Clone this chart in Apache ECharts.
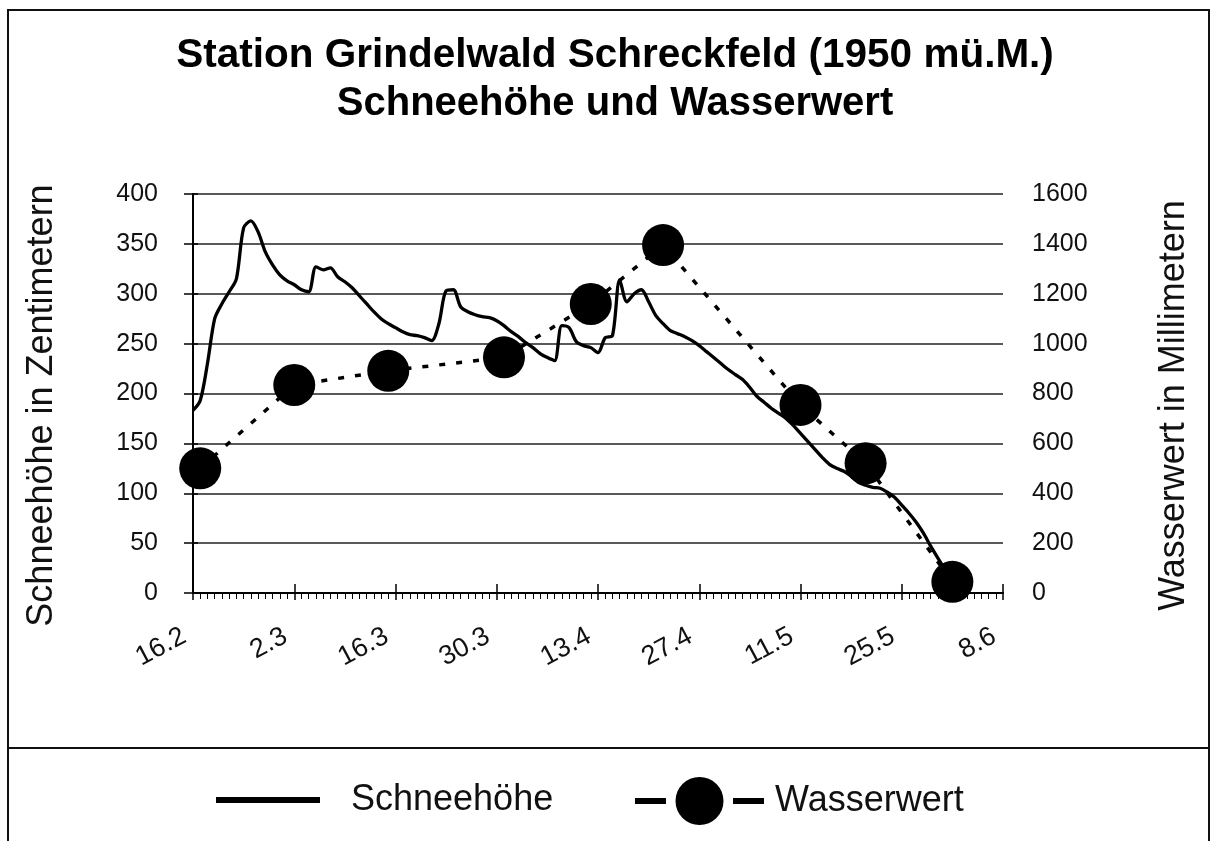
<!DOCTYPE html>
<html>
<head>
<meta charset="utf-8">
<script src="https://cdn.jsdelivr.net/npm/echarts@6/dist/echarts.min.js"></script>
<style>
html,body{margin:0;padding:0;background:#fff;}
#chart{width:1211px;height:841px;}
</style>
</head>
<body>
<div id="chart"></div>
<script>
// x axis: days since 16.2 (0 .. 112)
const tickLabels = ['16.2','2.3','16.3','30.3','13.4','27.4','11.5','25.5','8.6'];
// Schneehöhe (cm), one value per day starting 16.2
const snowDepth = [
  183,193,230,275,290,302,315,366,373,362,
  342,329,319,313,309,304,302,327,324,326,
  317,312,306,298,290,282,275,270,266,262,
  259,258,256,253,270,303,304,287,282,279,
  277,276,273,268,262,257,251,246,240,236,
  233,268,266,252,248,246,241,256,258,314,
  292,300,304,292,278,270,263,260,257,253,
  248,242,236,230,224,219,214,206,197,191,
  185,180,175,168,160,152,144,136,129,125,
  122,117,111,108,106,105,101,96,88,80,
  71,60,47,35,23,11,0
];
// Wasserwert (mm) measurements
const waterDays = [1,14,27,43,55,65,84,93,105];
const waterValues = [500,834,891,945,1159,1395,754,520,45];

const FONT = '"Liberation Sans", Arial, Helvetica, sans-serif';
const snowData = snowDepth.map((v,i)=>[i,v]);
const waterData = waterDays.map((d,i)=>[d,waterValues[i]]);

const chart = echarts.init(document.getElementById('chart'), null, {renderer:'canvas'});
chart.setOption({
  animation:false,
  backgroundColor:'#fff',
  textStyle:{fontFamily:FONT},
  title:[
    {text:'Station Grindelwald Schreckfeld (1950 mü.M.)', left:615, top:35, textAlign:'center', padding:0,
     textStyle:{fontFamily:FONT, fontSize:40.5, fontWeight:'bold', color:'#000'}},
    {text:'Schneehöhe und Wasserwert', left:615, top:84, textAlign:'center', padding:0,
     textStyle:{fontFamily:FONT, fontSize:40, fontWeight:'bold', color:'#000'}}
  ],
  graphic:[
    {type:'rect', shape:{x:8,y:10,width:1201,height:845}, style:{fill:'none', stroke:'#111', lineWidth:2}, silent:true},
    {type:'line', shape:{x1:8,y1:748,x2:1209,y2:748}, style:{stroke:'#111', lineWidth:2}, silent:true}
  ],
  legend:[
    {left:216, top:782, padding:0, itemWidth:104, itemHeight:6,
     data:[{name:'Schneehöhe', icon:'rect'}],
     formatter:'{a|{name}}',
     textStyle:{fontFamily:FONT, fontSize:36, color:'#111', rich:{a:{fontFamily:FONT, fontSize:36, color:'#111', padding:[0,0,0,26]}}}
    },
    {left:632, top:777, padding:0, itemWidth:129, itemHeight:60,
     data:['Wasserwert'],
     lineStyle:{width:6, type:[31,67], color:'#000'},
     formatter:'{a|{name}}',
     textStyle:{fontFamily:FONT, fontSize:36, color:'#111', rich:{a:{fontFamily:FONT, fontSize:36, color:'#111', padding:[0,0,0,6]}}}
    }
  ],
  grid:{left:193, right:208, top:194, bottom:248, containLabel:false},
  xAxis:[
    {type:'value', min:0, max:112, interval:14, position:'bottom',
     axisLine:{show:true, lineStyle:{color:'#000', width:2}},
     axisTick:{show:true, inside:false, length:7, lineStyle:{color:'#000', width:1.5}},
     minorTick:{show:true, splitNumber:14, length:6, lineStyle:{color:'#000', width:1}},
     splitLine:{show:false},
     axisLabel:{show:true, rotate:28, margin:37,
       fontFamily:FONT, fontSize:27, color:'#111',
       formatter:(v)=>'{a|' + tickLabels[Math.round(v/14)] + '}',
       rich:{a:{fontFamily:FONT, fontSize:27, color:'#111', padding:[0,10,0,0]}}}
    },
    {type:'value', min:0, max:112, interval:14, position:'bottom',
     axisLine:{show:false},
     axisTick:{show:true, inside:true, length:9, lineStyle:{color:'#000', width:1.5}},
     axisLabel:{show:false}, splitLine:{show:false}
    }
  ],
  yAxis:[
    {type:'value', min:0, max:400, interval:50, position:'left',
     name:'Schneehöhe in Zentimetern', nameLocation:'middle', nameGap:133, nameRotate:90,
     nameTextStyle:{fontFamily:FONT, fontSize:36, color:'#111', padding:[0,24,0,0]},
     axisLine:{show:true, lineStyle:{color:'#000', width:2}},
     axisTick:{show:true, length:9, lineStyle:{color:'#000', width:1.5}},
     splitLine:{show:true, lineStyle:{color:'#222', width:1.6}},
     axisLabel:{margin:35, fontFamily:FONT, fontSize:25, color:'#111'}
    },
    {type:'value', min:0, max:1600, interval:200, position:'right',
     name:'Wasserwert in Millimetern', nameLocation:'middle', nameGap:153, nameRotate:90,
     nameTextStyle:{fontFamily:FONT, fontSize:36, color:'#111', padding:[0,24,0,0]},
     axisLine:{show:true, lineStyle:{color:'#000', width:2}},
     axisTick:{show:true, length:5, lineStyle:{color:'#000', width:1.5}},
     splitLine:{show:false},
     axisLabel:{margin:29, fontFamily:FONT, fontSize:25, color:'#111', formatter:(v)=>String(v)}
    }
  ],
  series:[
    {name:'Schneehöhe', type:'line', xAxisIndex:0, yAxisIndex:0, data:snowData,
     symbol:'none', smooth:0.3, color:'#000',
     lineStyle:{color:'#000', width:3.3}, z:2},
    {name:'Wasserwert', type:'line', xAxisIndex:0, yAxisIndex:1, data:waterData,
     symbol:'circle', symbolSize:42, color:'#000',
     itemStyle:{color:'#000'},
     lineStyle:{color:'#000', width:3.5, type:[6,11]}, z:3}
  ]
});
</script>
</body>
</html>
